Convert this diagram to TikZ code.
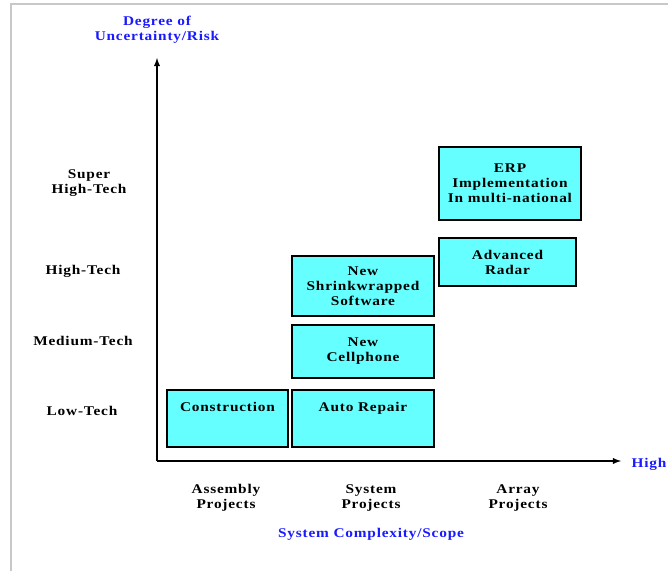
\documentclass[tikz,border=0pt]{standalone}
\usepackage{fontspec}
\setmainfont{Liberation Serif}[FakeStretch=1.15, LetterSpace=6]
\usepackage{tikz}
\usetikzlibrary{positioning}
\definecolor{boxcyan}{RGB}{102,255,255}
\definecolor{axisblue}{RGB}{26,26,255}
\definecolor{framegray}{RGB}{200,200,200}
\tikzstyle{novertex} = [draw=none, fill=none, text centered, align=center, font=\fontsize{10}{11.25}\selectfont\bfseries]
\tikzstyle{axistitle} = [novertex, text=axisblue]
\tikzstyle{project} = [rectangle, draw, line width=1.1pt, fill=boxcyan, align=center, font=\fontsize{10}{11.25}\selectfont\bfseries]
\tikzstyle{axis} = [draw, line width=1.1pt, -latex]

\begin{document}
\begin{tikzpicture}[x=0.75pt, y=-0.75pt]
	\useasboundingbox (0,0) rectangle (668,571);
	% frame
	\draw [framegray, line width=1.5pt] (11,571) -- (11,4) -- (668,4);

	% axes
	\coordinate (O) at (157,461);
	\coordinate (Ytip) at (157,58);
	\coordinate (Xtip) at (621,461);
	\path [axis] (O) -- (Ytip);
	\path [axis] (O) -- (Xtip);
	\node [axistitle] (Ytitle) at (157,30) {Degree of\\Uncertainty/Risk};
	\node [axistitle, inner sep=0pt] (Xhigh) at (649,464) {High};
	\node [axistitle] (Xtitle) at (371,534) {System Complexity/Scope};

	% level labels
	\node [novertex] (L4) at (89,183) {Super\\High-Tech};
	\node [novertex] (L3) at (83,271) {High-Tech};
	\node [novertex] (L2) at (83,341) {Medium-Tech};
	\node [novertex] (L1) at (82,411) {Low-Tech};

	% class labels
	\node [novertex] (C1) at (226,498) {Assembly\\Projects};
	\node [novertex] (C2) at (371,498) {System\\Projects};
	\node [novertex] (C3) at (518,498) {Array\\Projects};

	% place projects
	\node [project, minimum width=90.75pt, minimum height=42.75pt] (P1) at (227.5,418.5) {};
	\node [novertex, below=6pt of P1.north] (P1t) {Construction};
	\node [project, minimum width=106.5pt, minimum height=42.75pt] (P2) at (363,418.5) {};
	\node [novertex, below=6pt of P2.north] (P2t) {Auto Repair};
	\node [project, minimum width=106.5pt, minimum height=39.75pt] (P3) at (363,351.5) {New\\Cellphone};
	\node [project, minimum width=106.5pt, minimum height=45pt] (P4) at (363,286) {New\\Shrinkwrapped\\Software};
	\node [project, minimum width=102.75pt, minimum height=36pt] (P5) at (507.5,262) {Advanced\\Radar};
	\node [project, minimum width=106.5pt, minimum height=54.75pt] (P6) at (510,183.5) {ERP\\Implementation\\In multi-national};
\end{tikzpicture}
\end{document}
